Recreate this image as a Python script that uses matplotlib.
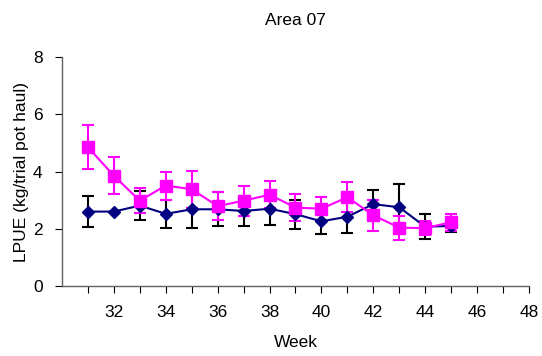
import numpy as np
import matplotlib.pyplot as plt

weeks = np.arange(31, 46)

# navy diamonds series
navy_vals = [2.60, 2.60, 2.81, 2.52, 2.68, 2.68, 2.62, 2.70, 2.51, 2.26, 2.42, 2.86, 2.75, 2.07, 2.10]
navy_err = [0.55, 0.0, 0.50, 0.48, 0.65, 0.60, 0.53, 0.57, 0.51, 0.43, 0.56, 0.50, 0.80, 0.43, 0.20]

# magenta squares series
pink_vals = [4.85, 3.85, 2.98, 3.51, 3.38, 2.79, 2.98, 3.19, 2.74, 2.70, 3.10, 2.47, 2.04, 2.02, 2.23]
pink_err = [0.76, 0.65, 0.43, 0.49, 0.64, 0.50, 0.52, 0.47, 0.48, 0.42, 0.52, 0.54, 0.42, 0.25, 0.30]

plt.rcParams['font.family'] = ['Liberation Sans', 'DejaVu Sans']

fig = plt.figure(figsize=(5.42, 3.56), dpi=100)
ax = fig.add_axes([0.1144, 0.1966, 0.976 - 0.1144, 0.8399 - 0.1966])

ax.errorbar(weeks, navy_vals, yerr=navy_err, color='#000080', ecolor='black',
            marker='D', markersize=6, linewidth=1.5, elinewidth=1.5, capsize=4, capthick=1.5)
ax.errorbar(weeks, pink_vals, yerr=pink_err, color='#FF00FF', ecolor='#FF00FF',
            marker='s', markersize=8, linewidth=1.5, elinewidth=1.5, capsize=4, capthick=1.5)

ax.set_xlim(30, 48)
ax.set_ylim(0, 8)
ax.set_xticks(np.arange(31, 49))
ax.set_xticklabels([str(w) if w % 2 == 0 else '' for w in range(31, 49)])
ax.set_yticks([0, 2, 4, 6, 8])

for s in ['top', 'right']:
    ax.spines[s].set_visible(False)
for s in ['left', 'bottom']:
    ax.spines[s].set_color('#606060')
    ax.spines[s].set_linewidth(1)

ax.tick_params(direction='out', length=5, color='black', labelsize=12.5)
ax.tick_params(axis='x', pad=9)
ax.tick_params(axis='y', pad=9)

ax.set_xlabel('Week', fontsize=12.5)
ax.xaxis.set_label_coords(0.5, -0.2445)
ax.xaxis.label.set_va('center')
ax.set_ylabel('LPUE (kg/trial pot haul)', fontsize=12.5)
ax.yaxis.set_label_coords(-0.0878, 0.5)
ax.yaxis.label.set_va('center')
ax.set_title('Area 07', fontsize=12.5, pad=23)

plt.savefig('out.png', dpi=100)
